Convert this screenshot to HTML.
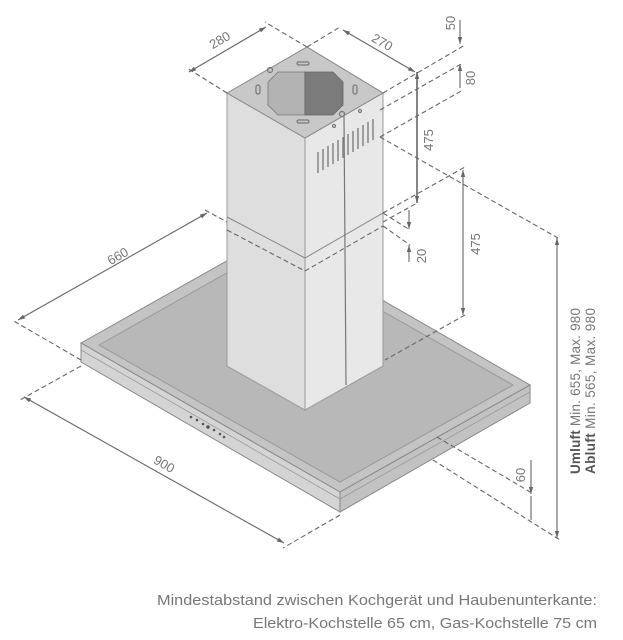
<!DOCTYPE html>
<html><head><meta charset="utf-8"><style>
html,body{margin:0;padding:0;background:#fff;width:623px;height:640px;overflow:hidden}
svg{display:block}
text{font-family:"Liberation Sans",sans-serif;fill:#777}
</style></head><body>
<svg width="623" height="640" viewBox="0 0 623 640" xmlns="http://www.w3.org/2000/svg">
<defs>
<marker id="a" markerWidth="8" markerHeight="6" refX="7" refY="3" orient="auto-start-reverse" markerUnits="userSpaceOnUse">
<path d="M0,0.8 L7,3 L0,5.2 Z" fill="#666"/></marker>
</defs>
<!-- canopy -->
<polygon points="81,343 271,236 530,385 340,492" fill="#c4c4c4" stroke="#888" stroke-width="1"/>
<polygon points="99,345 271,248 513,385 340,482" fill="#b8b8b8" stroke="#999" stroke-width="1"/>
<polygon points="81,343 340,492 340,512 81,362" fill="#d4d4d4" stroke="#888" stroke-width="1"/>
<polygon points="340,492 530,385 530,403 340,512" fill="#c2c2c2" stroke="#888" stroke-width="1"/>
<line x1="81" y1="350" x2="340" y2="499" stroke="#999" stroke-width="0.8"/>
<line x1="340" y1="499" x2="530" y2="392" stroke="#999" stroke-width="0.8"/>
<g fill="#555"><circle cx="191" cy="417" r="1.3"/><circle cx="197" cy="420" r="1.3"/><circle cx="203" cy="424" r="1.3"/><circle cx="208" cy="427" r="1.8"/><circle cx="214" cy="430" r="1.3"/><circle cx="220" cy="434" r="1.3"/><circle cx="224" cy="437" r="1.3"/></g>
<!-- chimney -->
<polygon points="227,93 305,138 305,410 227,366" fill="#dedede" stroke="#999" stroke-width="1"/>
<polygon points="305,138 383,93 383,366 305,410" fill="#e8e8e8" stroke="#999" stroke-width="1"/>
<polyline points="227,217 305,258 383,213" fill="none" stroke="#888" stroke-width="1"/>
<polygon points="227,93 307,47 383,93 305,138" fill="#c8c8c8" stroke="#888" stroke-width="1"/>
<polygon points="278,72 305,72 305,115 278,115 268,105 268,82" fill="#b3b3b3" stroke="#777" stroke-width="0.8"/>
<polygon points="305,72 333,72 343,82 343,105 333,115 305,115" fill="#7b7b7b" stroke="#666" stroke-width="0.8"/>
<g fill="none" stroke="#777" stroke-width="1.2">
<rect x="256" y="85" width="4" height="9" rx="2"/><rect x="353" y="85" width="4" height="9" rx="2"/>
<rect x="297" y="62" width="12" height="3" rx="1.5"/><rect x="297" y="120" width="12" height="3" rx="1.5"/>
<circle cx="270" cy="70" r="2.5"/><circle cx="342" cy="114" r="2.5"/><circle cx="334" cy="126" r="1.5"/><circle cx="360" cy="111" r="1.5"/>
</g>
<g stroke="#777" stroke-width="1.3">
<line x1="318" y1="152" x2="318" y2="173"/><line x1="323" y1="149" x2="323" y2="170"/><line x1="328" y1="146" x2="328" y2="167"/><line x1="333" y1="143" x2="333" y2="164"/><line x1="338" y1="140" x2="338" y2="161"/><line x1="343" y1="137" x2="343" y2="158"/><line x1="348" y1="134" x2="348" y2="155"/><line x1="353" y1="131" x2="353" y2="152"/><line x1="358" y1="128" x2="358" y2="149"/><line x1="363" y1="125" x2="363" y2="146"/><line x1="368" y1="122" x2="368" y2="143"/><line x1="373" y1="119" x2="373" y2="140"/>
</g>
<line x1="344" y1="116" x2="346" y2="385" stroke="#777" stroke-width="1.2"/>
<!-- dashed lines -->
<g fill="none" stroke="#666" stroke-width="1.1" stroke-dasharray="5,3">
<line x1="227" y1="93" x2="187" y2="68"/><line x1="307" y1="47" x2="265" y2="22"/>
<line x1="307" y1="47" x2="340" y2="27"/>
<line x1="383" y1="93" x2="465" y2="45"/>
<line x1="380" y1="110" x2="463" y2="63"/>
<line x1="380" y1="137" x2="463" y2="90"/>
<line x1="380" y1="137" x2="558" y2="238"/>
<polyline points="205,210 227,222"/>
<polyline points="227,230 305,271 383,226"/>
<line x1="383" y1="213" x2="465" y2="167"/>
<line x1="383" y1="222" x2="417" y2="203"/>
<line x1="383" y1="213" x2="410" y2="230"/>
<line x1="383" y1="226" x2="410" y2="245"/>
<line x1="465" y1="315" x2="385" y2="360"/>
<line x1="81" y1="360" x2="12" y2="320"/>
<line x1="81" y1="366" x2="20" y2="400"/>
<line x1="340" y1="515" x2="283" y2="548"/>
<line x1="437" y1="437" x2="532" y2="493"/>
<line x1="433" y1="460" x2="560" y2="540"/>
</g>
<!-- dimension lines -->
<g stroke="#666" stroke-width="1.1" fill="none">
<line x1="189" y1="72" x2="266" y2="27" marker-start="url(#a)" marker-end="url(#a)"/>
<line x1="343" y1="30" x2="415" y2="72" marker-start="url(#a)" marker-end="url(#a)"/>
<line x1="460" y1="20" x2="460" y2="44" marker-end="url(#a)"/>
<line x1="460" y1="88" x2="460" y2="64" marker-end="url(#a)"/>
<line x1="417" y1="72" x2="417" y2="203" marker-start="url(#a)" marker-end="url(#a)" stroke-width="1.6"/>
<line x1="409" y1="210" x2="409" y2="229" marker-end="url(#a)"/>
<line x1="409" y1="262" x2="409" y2="245" marker-end="url(#a)"/>
<line x1="463" y1="170" x2="463" y2="315" marker-start="url(#a)" marker-end="url(#a)"/>
<line x1="557" y1="238" x2="557" y2="538" marker-start="url(#a)" marker-end="url(#a)"/>
<line x1="531" y1="460" x2="531" y2="494" marker-end="url(#a)"/>
<line x1="531" y1="520" x2="531" y2="496"/>
<line x1="18" y1="320" x2="207" y2="213" marker-start="url(#a)" marker-end="url(#a)"/>
<line x1="24" y1="397" x2="284" y2="543" marker-start="url(#a)" marker-end="url(#a)"/>
</g>
<!-- labels -->
<g font-size="13">
<text transform="translate(222,44) rotate(-30)" text-anchor="middle">280</text>
<text transform="translate(380,46) rotate(30)" text-anchor="middle">270</text>
<text transform="translate(455,23) rotate(-90)" text-anchor="middle">50</text>
<text transform="translate(475,78) rotate(-90)" text-anchor="middle">80</text>
<text transform="translate(433,140) rotate(-90)" text-anchor="middle">475</text>
<text transform="translate(426,256) rotate(-90)" text-anchor="middle">20</text>
<text transform="translate(480,244) rotate(-90)" text-anchor="middle">475</text>
<text transform="translate(525,475) rotate(-90)" text-anchor="middle">60</text>
<text transform="translate(120,260) rotate(-30)" text-anchor="middle">660</text>
<text transform="translate(162,468) rotate(30)" text-anchor="middle">900</text>
</g>
<g font-size="13.5">
<text transform="translate(580,474) rotate(-90)" textLength="166"><tspan font-weight="bold" fill="#555">Umluft</tspan> Min. 655, Max. 980</text>
<text transform="translate(595,474) rotate(-90)" textLength="166"><tspan font-weight="bold" fill="#555">Abluft</tspan> Min. 565, Max. 980</text>
</g>
<text x="157" y="605" font-size="15" textLength="440" lengthAdjust="spacingAndGlyphs">Mindestabstand zwischen Kochgerät und Haubenunterkante:</text>
<text x="253" y="628" font-size="15" textLength="344" lengthAdjust="spacingAndGlyphs">Elektro-Kochstelle 65 cm, Gas-Kochstelle 75 cm</text>
</svg>
</body></html>
